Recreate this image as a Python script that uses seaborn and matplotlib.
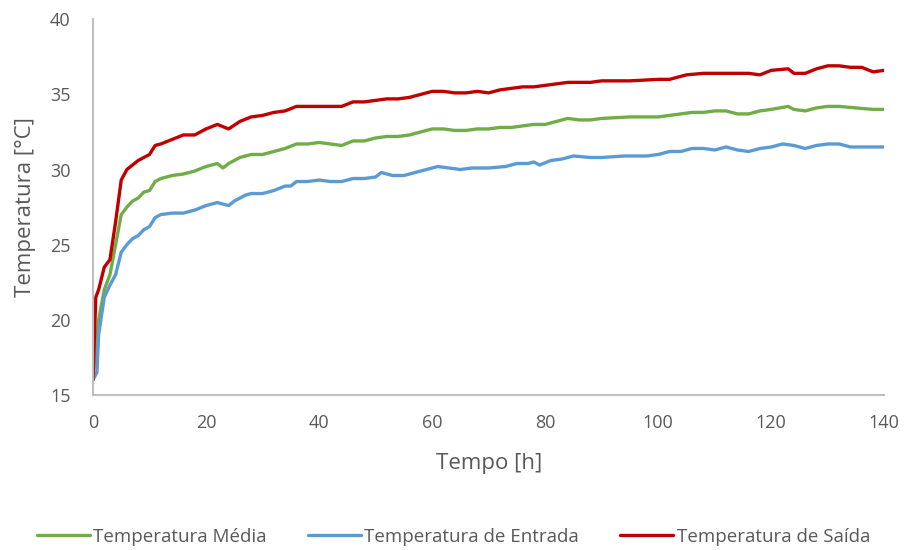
import pandas as pd
import seaborn as sns
import matplotlib.pyplot as plt

# Temperatura de Saída
tempo_saida = [0, 0.5, 1, 2, 3, 4, 5, 6, 7, 8, 9, 10, 11, 12, 14, 16, 18, 20, 22, 24, 26, 28, 30, 32,
               34, 36, 38, 40, 42, 44, 46, 48, 50, 52, 54, 56, 58, 60, 62, 64, 66, 68, 70, 72, 74, 76,
               78, 80, 82, 84, 86, 88, 90, 95, 100, 102, 105, 108, 110, 112, 114, 116, 118, 120, 123,
               124, 126, 128, 130, 132, 134, 136, 138, 140]
temp_saida = [16, 21.5, 22, 23.5, 24, 26.5, 29.3, 30, 30.3, 30.6, 30.8, 31.0, 31.6, 31.7, 32.0, 32.3,
              32.3, 32.7, 33.0, 32.7, 33.2, 33.5, 33.6, 33.8, 33.9, 34.2, 34.2, 34.2, 34.2, 34.2, 34.5,
              34.5, 34.6, 34.7, 34.7, 34.8, 35.0, 35.2, 35.2, 35.1, 35.1, 35.2, 35.1, 35.3, 35.4, 35.5,
              35.5, 35.6, 35.7, 35.8, 35.8, 35.8, 35.9, 35.9, 36.0, 36.0, 36.3, 36.4, 36.4, 36.4, 36.4,
              36.4, 36.3, 36.6, 36.7, 36.4, 36.4, 36.7, 36.9, 36.9, 36.8, 36.8, 36.5, 36.6]

# Temperatura Média
tempo_media = [0, 1, 2, 3, 4, 5, 6, 7, 8, 9, 10, 11, 12, 14, 16, 18, 20, 22, 23, 24, 26, 28, 30, 32,
               34, 36, 38, 40, 42, 44, 46, 48, 50, 52, 54, 56, 58, 60, 62, 64, 66, 68, 70, 72, 74, 76,
               78, 80, 82, 84, 86, 88, 90, 95, 100, 104, 106, 108, 110, 112, 114, 116, 118, 120, 123,
               124, 126, 128, 130, 132, 135, 138, 140]
temp_media = [16, 20, 22, 23, 25, 27, 27.5, 27.9, 28.1, 28.5, 28.6, 29.2, 29.4, 29.6, 29.7, 29.9, 30.2,
              30.4, 30.1, 30.4, 30.8, 31.0, 31.0, 31.2, 31.4, 31.7, 31.7, 31.8, 31.7, 31.6, 31.9, 31.9,
              32.1, 32.2, 32.2, 32.3, 32.5, 32.7, 32.7, 32.6, 32.6, 32.7, 32.7, 32.8, 32.8, 32.9, 33.0,
              33.0, 33.2, 33.4, 33.3, 33.3, 33.4, 33.5, 33.5, 33.7, 33.8, 33.8, 33.9, 33.9, 33.7, 33.7,
              33.9, 34.0, 34.2, 34.0, 33.9, 34.1, 34.2, 34.2, 34.1, 34.0, 34.0]

# Temperatura de Entrada
tempo_entrada = [0, 0.7, 1, 2, 3, 4, 5, 6, 7, 8, 9, 10, 11, 12, 14, 16, 18, 20, 22, 24, 25, 27, 28, 30,
                 32, 34, 35, 36, 38, 40, 42, 44, 46, 48, 50, 51, 53, 55, 57, 59, 61, 63, 65, 67, 70, 73,
                 75, 77, 78, 79, 81, 83, 85, 88, 90, 94, 96, 98, 100, 102, 104, 106, 108, 110, 112, 114,
                 116, 118, 120, 122, 124, 126, 128, 130, 132, 134, 136, 138, 140]
temp_entrada = [16, 16.5, 19, 21.5, 22.3, 23, 24.5, 25, 25.4, 25.6, 26, 26.2, 26.8, 27.0, 27.1, 27.1,
                27.3, 27.6, 27.8, 27.6, 27.9, 28.3, 28.4, 28.4, 28.6, 28.9, 28.9, 29.2, 29.2, 29.3, 29.2,
                29.2, 29.4, 29.4, 29.5, 29.8, 29.6, 29.6, 29.8, 30.0, 30.2, 30.1, 30.0, 30.1, 30.1, 30.2,
                30.4, 30.4, 30.5, 30.3, 30.6, 30.7, 30.9, 30.8, 30.8, 30.9, 30.9, 30.9, 31.0, 31.2, 31.2,
                31.4, 31.4, 31.3, 31.5, 31.3, 31.2, 31.4, 31.5, 31.7, 31.6, 31.4, 31.6, 31.7, 31.7, 31.5,
                31.5, 31.5, 31.5]

series = ["Temperatura Média", "Temperatura de Entrada", "Temperatura de Saída"]
cores = ["#70AD47", "#5B9BD5", "#C00000"]

df = pd.concat([
    pd.DataFrame({"Tempo": tempo_media, "Temp": temp_media, "Serie": series[0]}),
    pd.DataFrame({"Tempo": tempo_entrada, "Temp": temp_entrada, "Serie": series[1]}),
    pd.DataFrame({"Tempo": tempo_saida, "Temp": temp_saida, "Serie": series[2]}),
])

sns.set_style("white")
plt.rcParams['font.family'] = ['Open Sans', 'DejaVu Sans']
texto = "#595959"

fig = plt.figure(figsize=(9.07, 5.5), dpi=100)
ax = fig.add_axes([0.1025, 0.282, 0.8725, 0.683])

sns.lineplot(data=df, x="Tempo", y="Temp", hue="Serie", hue_order=series,
             palette=cores, linewidth=2.4, ax=ax, estimator=None, sort=False)

ax.set_xlim(0, 140)
ax.set_ylim(15, 40)
ax.set_xticks(range(0, 141, 20))
ax.set_yticks(range(15, 41, 5))
ax.tick_params(axis="x", length=0, labelsize=13, colors=texto, pad=14)
ax.tick_params(axis="y", length=0, labelsize=13, colors=texto, pad=16)
ax.set_xlabel("Tempo [h]", fontsize=16, color=texto, labelpad=15)
ax.set_ylabel("Temperatura [°C]", fontsize=16, color=texto, labelpad=10)

for lado in ["top", "right"]:
    ax.spines[lado].set_visible(False)
for lado in ["left", "bottom"]:
    ax.spines[lado].set_color("#BFBFBF")
    ax.spines[lado].set_linewidth(1.5)

ax.legend(loc="center", bbox_to_anchor=(0.5, 1 - 537 / 550), bbox_transform=fig.transFigure,
          ncol=3, frameon=False, fontsize=13.5, labelcolor=texto, handlelength=2.8,
          handletextpad=0.2, columnspacing=2.2)

plt.savefig("out.png", dpi=100)
